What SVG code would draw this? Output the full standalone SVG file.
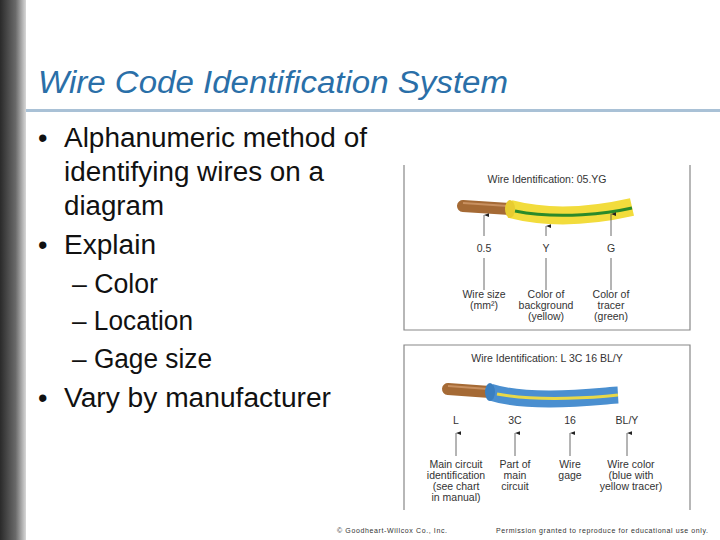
<svg xmlns="http://www.w3.org/2000/svg" width="720" height="540" viewBox="0 0 720 540">
<defs>
<linearGradient id="lg" x1="0" x2="1" y1="0" y2="0"><stop offset="0" stop-color="#2a2a2a"/><stop offset="0.6" stop-color="#6a6a6a"/><stop offset="1" stop-color="#d8d8d8"/></linearGradient>
<marker id="ar" viewBox="0 0 6 8" refX="3" refY="0" markerWidth="4" markerHeight="5" markerUnits="userSpaceOnUse" orient="auto-start-reverse"><path d="M0,8 L3,0 L6,8 Z" fill="#222"/></marker>
</defs>
<style>
.b{font-family:"Liberation Sans",Arial,sans-serif;font-size:27px;fill:#111}
.s{font-family:"Liberation Sans",Arial,sans-serif;font-size:10.5px;fill:#333;text-anchor:middle}
.f{font-family:"Liberation Sans",Arial,sans-serif;font-size:7px;fill:#333}
.ln{stroke:#444;stroke-width:0.8;fill:none}
.box{fill:#fff;stroke:#888;stroke-width:1.2}
</style>
<rect width="720" height="540" fill="#fff"/>
<rect x="0" y="0" width="26" height="540" fill="url(#lg)"/>
<text x="38" y="93" font-family="Liberation Sans,Arial,sans-serif" font-style="italic" font-size="31" fill="#2a6fa8" textLength="470" lengthAdjust="spacingAndGlyphs">Wire Code Identification System</text>
<rect x="26" y="109" width="694" height="3" fill="#a9c1d6"/>
<g id="bullets">
<text class="b" x="38" y="147">•</text><text class="b" x="64" y="147" textLength="303" lengthAdjust="spacingAndGlyphs">Alphanumeric method of</text>
<text class="b" x="64" y="181" textLength="260" lengthAdjust="spacingAndGlyphs">identifying wires on a</text>
<text class="b" x="64" y="215" textLength="100" lengthAdjust="spacingAndGlyphs">diagram</text>
<text class="b" x="38" y="254">•</text><text class="b" x="64" y="254" textLength="92" lengthAdjust="spacingAndGlyphs">Explain</text>
<text class="b" x="72" y="293" textLength="86" lengthAdjust="spacingAndGlyphs">– Color</text>
<text class="b" x="72" y="330" textLength="121" lengthAdjust="spacingAndGlyphs">– Location</text>
<text class="b" x="72" y="368" textLength="140" lengthAdjust="spacingAndGlyphs">– Gage size</text>
<text class="b" x="38" y="407">•</text><text class="b" x="64" y="407" textLength="267" lengthAdjust="spacingAndGlyphs">Vary by manufacturer</text>
</g>
<g id="fig1">
<path class="box" d="M404,165 V330 H690 V165"/>
<text class="s" x="547" y="183">Wire Identification: 05.YG</text>
<path d="M463,206 L510,209" stroke="#a56a35" stroke-width="12" stroke-linecap="round"/>
<path d="M463,203 L508,206" stroke="#c89060" stroke-width="2"/>
<path d="M510,209 C560,222 610,212 632,207" stroke="#f2dc3c" stroke-width="18"/>
<ellipse cx="510" cy="209" rx="5" ry="9" fill="#e8cc30"/>
<path d="M515,211 C560,220 610,213 632,208" stroke="#2a8a2a" stroke-width="3" fill="none"/>
<g class="ln"><line x1="484" y1="236" x2="484" y2="215" marker-end="url(#ar)"/><line x1="484" y1="258" x2="484" y2="290"/>
<line x1="546" y1="236" x2="546" y2="226" marker-end="url(#ar)"/><line x1="546" y1="258" x2="546" y2="290"/>
<line x1="611" y1="236" x2="611" y2="214" marker-end="url(#ar)"/><line x1="611" y1="258" x2="611" y2="290"/></g>
<text class="s" x="484" y="252">0.5</text><text class="s" x="546" y="252">Y</text><text class="s" x="611" y="252">G</text>
<text class="s" x="484" y="298">Wire size</text><text class="s" x="484" y="309">(mm²)</text>
<text class="s" x="546" y="298">Color of</text><text class="s" x="546" y="309">background</text><text class="s" x="546" y="320">(yellow)</text>
<text class="s" x="611" y="298">Color of</text><text class="s" x="611" y="309">tracer</text><text class="s" x="611" y="320">(green)</text>
</g>
<g id="fig2">
<path class="box" d="M404,510 V345 H690 V510"/>
<text class="s" x="547" y="362">Wire Identification: L 3C 16 BL/Y</text>
<path d="M448,389 L490,392" stroke="#a56a35" stroke-width="12" stroke-linecap="round"/>
<path d="M448,386 L488,389" stroke="#c89060" stroke-width="2"/>
<path d="M490,392 C530,405 600,396 618,395" stroke="#4a8fd0" stroke-width="17"/>
<ellipse cx="490" cy="392" rx="5" ry="9" fill="#3a7fc0"/>
<path d="M497,394 C540,402 600,397 618,395" stroke="#e8d848" stroke-width="3" fill="none"/>
<text class="s" x="456" y="424">L</text><text class="s" x="515" y="424">3C</text><text class="s" x="570" y="424">16</text><text class="s" x="627" y="424">BL/Y</text>
<g class="ln"><line x1="456" y1="456" x2="456" y2="433" marker-end="url(#ar)"/>
<line x1="515" y1="456" x2="515" y2="433" marker-end="url(#ar)"/>
<line x1="570" y1="456" x2="570" y2="433" marker-end="url(#ar)"/>
<line x1="627" y1="456" x2="627" y2="433" marker-end="url(#ar)"/></g>
<text class="s" x="456" y="468">Main circuit</text><text class="s" x="456" y="479">identification</text><text class="s" x="456" y="490">(see chart</text><text class="s" x="456" y="501">in manual)</text>
<text class="s" x="515" y="468">Part of</text><text class="s" x="515" y="479">main</text><text class="s" x="515" y="490">circuit</text>
<text class="s" x="570" y="468">Wire</text><text class="s" x="570" y="479">gage</text>
<text class="s" x="631" y="468">Wire color</text><text class="s" x="631" y="479">(blue with</text><text class="s" x="631" y="490">yellow tracer)</text>
</g>
<text class="f" x="337" y="533" textLength="110">© Goodheart-Willcox Co., Inc.</text>
<text class="f" x="496" y="533" textLength="212">Permission granted to reproduce for educational use only.</text>
</svg>
